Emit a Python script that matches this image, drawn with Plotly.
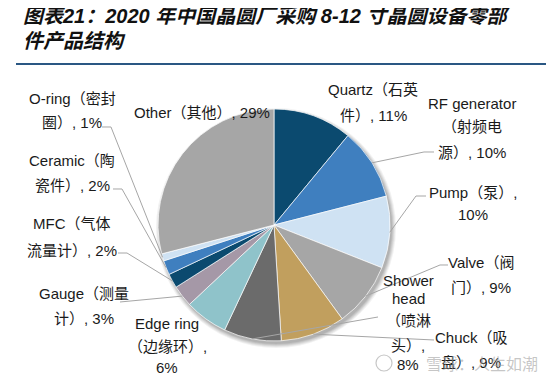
import math
import plotly.graph_objects as go

# page is drawn with an 8px body margin, so the figure is sized to the remaining area
OFF = 8
W, H = 554 - OFF, 379 - OFF

# ---- data ----
categories = ["Quartz", "RF generator", "Pump", "Valve", "Chuck", "Shower head",
              "Edge ring", "Gauge", "MFC", "Ceramic", "O-ring", "Other"]
shares = [11, 10, 10, 9, 9, 8, 6, 3, 2, 2, 1, 29]
label_lines = {
    "Quartz": ["Quartz（石英", "件）, 11%"],
    "RF generator": ["RF generator", "（射频电", "源）, 10%"],
    "Pump": ["Pump（泵）,", "10%"],
    "Valve": ["Valve（阀", "门）, 9%"],
    "Chuck": ["Chuck（吸", "盘）, 9%"],
    "Shower head": ["Shower", "head", "（喷淋", "头）,", "8%"],
    "Edge ring": ["Edge ring", "（边缘环）,", "6%"],
    "Gauge": ["Gauge（测量", "计）, 3%"],
    "MFC": ["MFC（气体", "流量计）, 2%"],
    "Ceramic": ["Ceramic（陶", "瓷件）, 2%"],
    "O-ring": ["O-ring（密封", "圈）, 1%"],
    "Other": ["Other（其他）, 29%"],
}
title_lines = ["图表21：2020 年中国晶圆厂采购 8-12 寸晶圆设备零部", "件产品结构"]

# ---- styling / layout (page pixel positions) ----
colors = ["#0b4a6f", "#3f7fbf", "#cfe2f3", "#a6a6a6", "#c19f5e", "#6b6b6b",
          "#8fc3ca", "#a598a7", "#0b4a6f", "#3f7fbf", "#cfe2f3", "#a6a6a6"]
CX, CY, R = 274, 225, 116

label_pos = {  # x centre, y of each line (px)
    "Quartz": (373, [90, 115]),
    "RF generator": (472, [103, 126, 152]),
    "Pump": (473, [193, 214]),
    "Valve": (481, [262, 287]),
    "Chuck": (471, [337, 362]),
    "Shower head": (408, [280, 298, 320, 345, 364]),
    "Edge ring": (167, [323, 346, 367]),
    "Gauge": (84, [293, 318]),
    "MFC": (72, [223, 250]),
    "Ceramic": (72, [160, 185]),
    "O-ring": (72, [98, 123]),
    "Other": (202, [112]),
}
leader_ends = {
    "RF generator": [(424, 152), (434, 152)],
    "Pump": [(416, 196), (426, 196)],
    "Valve": [(440, 265), (448, 265)],
    "Chuck": [(434, 340)],
    "Shower head": [(378, 317)],
    "Gauge": [(120, 302)],
    "MFC": [(127, 253), (118, 253)],
    "Ceramic": [(122, 189), (113, 189)],
    "O-ring": [(111, 127), (102, 127)],
}

FONT = "Liberation Sans, Arial, Noto Sans CJK SC, sans-serif"


def px(x):
    return (x - OFF) / W


def py(y):
    return 1 - (y - OFF) / H


fig = go.Figure()
fig.add_trace(go.Pie(
    labels=categories, values=shares, sort=False, direction="clockwise",
    rotation=0, textinfo="none", showlegend=False,
    marker=dict(colors=colors, line=dict(color="white", width=0.7)),
    domain=dict(x=[px(CX - R), px(CX + R)], y=[py(CY + R), py(CY - R)]),
))

shapes = []
# soft shadow
for d, op in [(6, 0.05), (5, 0.06), (4, 0.07), (3, 0.08), (2, 0.08)]:
    ox, oy = 2, 3
    shapes.append(dict(type="circle", xref="paper", yref="paper", layer="below",
                       x0=px(CX - R + ox - d + 2), x1=px(CX + R + ox + d - 2),
                       y0=py(CY + R + oy + d - 2), y1=py(CY - R + oy - d + 2),
                       fillcolor=f"rgba(0,0,0,{op})", line=dict(width=0)))

# leader lines from slice mid-angles
total = sum(shares)
cum = 0
for cat, v in zip(categories, shares):
    mid = (cum + v / 2) / total * 2 * math.pi
    cum += v
    if cat not in leader_ends:
        continue
    sx = CX + R * math.sin(mid)
    sy = CY - R * math.cos(mid)
    pts = [(sx, sy)] + leader_ends[cat]
    path = "M " + " L ".join(f"{px(x):.5f},{py(y):.5f}" for x, y in pts)
    shapes.append(dict(type="path", xref="paper", yref="paper", path=path,
                       line=dict(color="#a6a6a6", width=1)))

# title rule
shapes.append(dict(type="line", xref="paper", yref="paper",
                   x0=px(16), x1=1, y0=py(64), y1=py(64),
                   line=dict(color="#2a5783", width=2)))

annotations = []
for cat in categories:
    x, ys = label_pos[cat]
    for line, y in zip(label_lines[cat], ys):
        annotations.append(dict(text=line, x=px(x), y=py(y), xref="paper", yref="paper",
                                xanchor="center", yanchor="middle", showarrow=False,
                                font=dict(family=FONT, size=15, color="#1a1a1a")))

for i, t in enumerate(title_lines):
    annotations.append(dict(text=f"<b><i>{t}</i></b>", x=px(21), y=py(16 + 25 * i),
                            xref="paper", yref="paper", xanchor="left", yanchor="middle",
                            showarrow=False,
                            font=dict(family="Liberation Sans, Noto Sans CJK SC", size=20,
                                      color="#111111")))

# watermark
annotations.append(dict(text="雪球：人生如潮", x=px(424), y=py(363), xref="paper", yref="paper",
                        xanchor="left", yanchor="middle", showarrow=False,
                        font=dict(family="Noto Sans CJK SC", size=16, color="rgba(160,160,160,0.6)")))
shapes.append(dict(type="circle", xref="paper", yref="paper",
                   x0=px(376), x1=px(392), y0=py(371), y1=py(355),
                   line=dict(color="rgba(160,160,160,0.6)", width=1.2)))

fig.update_layout(
    width=W, height=H, margin=dict(l=0, r=0, t=0, b=0),
    paper_bgcolor="white", plot_bgcolor="white",
    shapes=shapes, annotations=annotations,
)

fig.write_html("out.html")
